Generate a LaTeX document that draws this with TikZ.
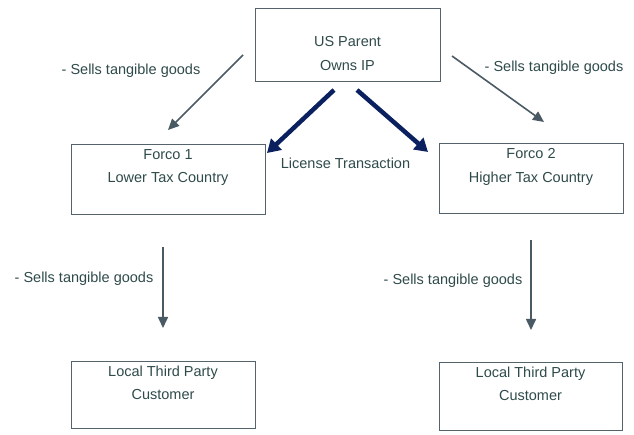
\documentclass[tikz,border=0pt]{standalone}
\usepackage{fontspec}
\setmainfont{Liberation Sans}
\usetikzlibrary{arrows.meta}

\definecolor{txtcol}{HTML}{2F4A4A}
\definecolor{boxcol}{HTML}{55646C}
\definecolor{arrcol}{HTML}{4A5A64}
\definecolor{navy}{HTML}{0B215F}

\begin{document}
\begin{tikzpicture}[x = 1pt, y = -1pt,
	entity/.style = {draw=boxcol, line width=1pt, inner sep=0pt},
	boxtext/.style = {text=txtcol, align=center, inner sep=0pt, font=\fontsize{14.5}{23.3}\selectfont},
	flow/.style = {text=txtcol, inner sep=0pt, anchor=base, font=\fontsize{14.5}{17}\selectfont},
	sells/.style = {draw=arrcol, line width=1.6pt, -{Triangle[length=11pt,width=10pt]}},
	license/.style = {draw=navy, line width=4.5pt, -{Triangle[length=13pt,width=15pt]}},]

		\useasboundingbox (0,0) rectangle (634,435);

		\node[entity, minimum width=185pt, minimum height=73pt,
			label={[boxtext, anchor=north, yshift=-28pt]north:{US Parent\\Owns IP}}] (P) at (347.5,45.5) {};
		\node[entity, minimum width=194pt, minimum height=70pt,
			label={[boxtext, anchor=north, yshift=-5pt]north:{Forco 1\\Lower Tax Country}}] (F1) at (168,180) {};
		\node[entity, minimum width=184pt, minimum height=70pt,
			label={[boxtext, anchor=north, yshift=-5pt]north:{Forco 2\\Higher Tax Country}}] (F2) at (531,179) {};
		\node[entity, minimum width=184pt, minimum height=67pt,
			label={[boxtext, anchor=north, yshift=-5pt]north:{Local Third Party\\Customer}}] (C1) at (163,394.5) {};
		\node[entity, minimum width=183pt, minimum height=68pt,
			label={[boxtext, anchor=north, yshift=-5pt]north:{Local Third Party\\Customer}}] (C2) at (530.5,396) {};

		\node[flow] (S1) at (131,75) {- Sells tangible goods};
		\node[flow] (S2) at (554,71.5) {- Sells tangible goods};
		\node[flow] (S3) at (84,283) {- Sells tangible goods};
		\node[flow] (S4) at (453,285) {- Sells tangible goods};
		\node[flow] (L) at (345.5,169) {License Transaction};

		\coordinate (a1) at (243,55);
		\coordinate (b1) at (168,130);
		\coordinate (a2) at (452,56);
		\coordinate (b2) at (544,122);
		\coordinate (a3) at (163,247);
		\coordinate (b3) at (163,328);
		\coordinate (a4) at (531,240);
		\coordinate (b4) at (531,330);
		\coordinate (a5) at (334,90);
		\coordinate (b5) at (267,153);
		\coordinate (a6) at (357,90);
		\coordinate (b6) at (428,152);

		\draw[sells]	(a1) -- (b1);
		\draw[sells]	(a2) -- (b2);
		\draw[sells]	(a3) -- (b3);
		\draw[sells]	(a4) -- (b4);
		\draw[license]	(a5) -- (b5);
		\draw[license]	(a6) -- (b6);

	\end{tikzpicture}
\end{document}
